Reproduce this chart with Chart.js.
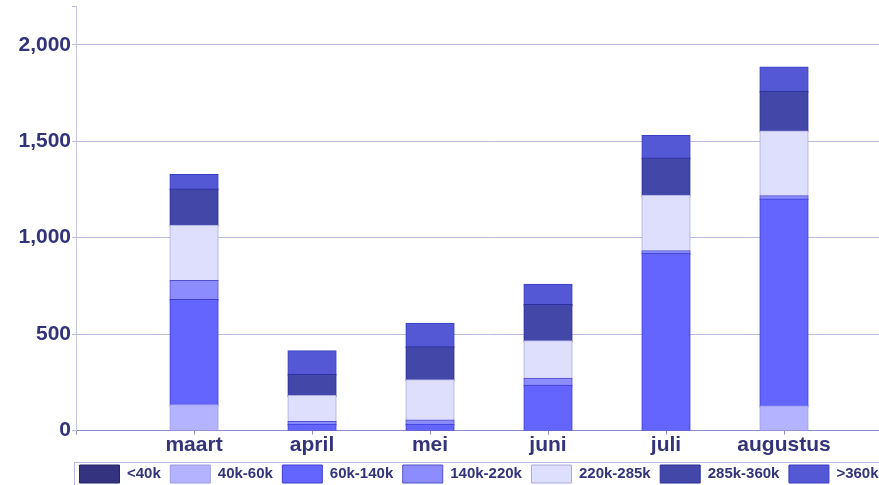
<!DOCTYPE html>
<html>
<head>
<meta charset="utf-8">
<script src="https://cdn.jsdelivr.net/npm/chart.js@4.4.1/dist/chart.umd.min.js"></script>
<style>
  html, body { margin: 0; padding: 0; background: #ffffff; overflow: hidden; }
  #wrap { position: relative; width: 902px; height: 493px; }
</style>
</head>
<body>
<div id="wrap"><canvas id="c"></canvas></div>
<script>
// ---- data ----
const categories = ['maart', 'april', 'mei', 'juni', 'juli', 'augustus'];
const seriesNames = ['<40k', '40k-60k', '60k-140k', '140k-220k', '220k-285k', '285k-360k', '>360k'];
const lt40k     = [0, 0, 0, 0, 0, 0];
const k40_60    = [131, 0, 0, 0, 0, 124];
const k60_140   = [546, 30, 30, 232, 916, 1074];
const k140_220  = [98, 14, 22, 37, 14, 17];
const k220_285  = [287, 135, 209, 194, 287, 336];
const k285_360  = [188, 110, 171, 188, 193, 205];
const gt360k    = [75, 122, 121, 105, 117, 127];
const yTicks    = [0, 500, 1000, 1500, 2000];

// ---- styling ----
const fills   = ['#33337f', '#b3b3ff', '#6464ff', '#8c8cff', '#dedefd', '#4347a8', '#5458d4'];
const borders = ['#24246e', '#9c9ce4', '#3f3fd4', '#5050cc', '#aaaadc', '#2a2e9e', '#3a3ec4'];
const navy = '#33337a';

const seriesValues = [lt40k, k40_60, k60_140, k140_220, k220_285, k285_360, gt360k];
// pad with an empty slot before and after so the category spacing matches the reference
const labels = [''].concat(categories, ['']);
const datasets = seriesNames.map((name, i) => ({
  label: name,
  data: [null].concat(seriesValues[i], [null]),
  backgroundColor: fills[i],
  borderColor: borders[i],
  borderWidth: 1,
  borderSkipped: false,
  inflateAmount: 1
}));

Chart.defaults.font.family = "'Liberation Sans', Arial, sans-serif";

const legendTweak = {
  id: 'legendTweak',
  afterLayout(chart) {
    const l = chart.legend;
    if (!l) return;
    l.left -= 10;
    l.right -= 10;
  },
  afterDraw(chart) {
    const l = chart.legend;
    if (!l) return;
    const ctx = chart.ctx;
    ctx.save();
    ctx.strokeStyle = '#b8b8e2';
    ctx.lineWidth = 1;
    ctx.strokeRect(Math.round(chart.chartArea.left) - 1.5, Math.round(l.top) + 6.5, chart.chartArea.right - chart.chartArea.left + 4, l.height);
    // small tick at the top end of the value axis
    ctx.strokeStyle = '#babae2';
    ctx.beginPath();
    ctx.moveTo(Math.round(chart.chartArea.left) - 4, Math.round(chart.chartArea.top) + 0.5);
    ctx.lineTo(Math.round(chart.chartArea.left), Math.round(chart.chartArea.top) + 0.5);
    ctx.stroke();
    ctx.restore();
  }
};

new Chart(document.getElementById('c'), {
  type: 'bar',
  data: { labels, datasets },
  plugins: [legendTweak],
  options: {
    responsive: true,
    maintainAspectRatio: false,
    animation: false,
    locale: 'en-US',
    layout: { padding: { top: 6, left: 17.5, right: 0, bottom: 0 } },
    datasets: { bar: { categoryPercentage: 1, barPercentage: 0.40 } },
    plugins: {
      title: { display: false },
      tooltip: { enabled: false },
      legend: {
        position: 'bottom',
        fullSize: false,
        labels: {
          boxWidth: 40,
          boxHeight: 18,
          padding: 9.5,
          color: navy,
          font: { size: 15, weight: 'bold' }
        }
      }
    },
    scales: {
      x: {
        stacked: true,
        offset: false,
        grid: { display: true, drawOnChartArea: false, offset: false, tickLength: 4, color: '#8c8cc8' },
        border: { display: true, color: '#8c8cc8' },
        ticks: { color: navy, padding: 0, font: { size: 21, weight: 'bold', lineHeight: 1 }, maxRotation: 0, autoSkip: false }
      },
      y: {
        stacked: true,
        min: 0,
        max: 2200,
        afterBuildTicks(scale) {
          scale.ticks = yTicks.map(v => ({ value: v }));
        },
        grid: {
          tickLength: 4,
          color: '#babae2'
        },
        border: { display: true, color: '#c4c4e8' },
        ticks: {
          color: navy,
          padding: 1,
          font: { size: 21, weight: 'bold', lineHeight: 0.5 },
          callback: v => v.toLocaleString('en-US')
        }
      }
    }
  }
});
</script>
</body>
</html>
